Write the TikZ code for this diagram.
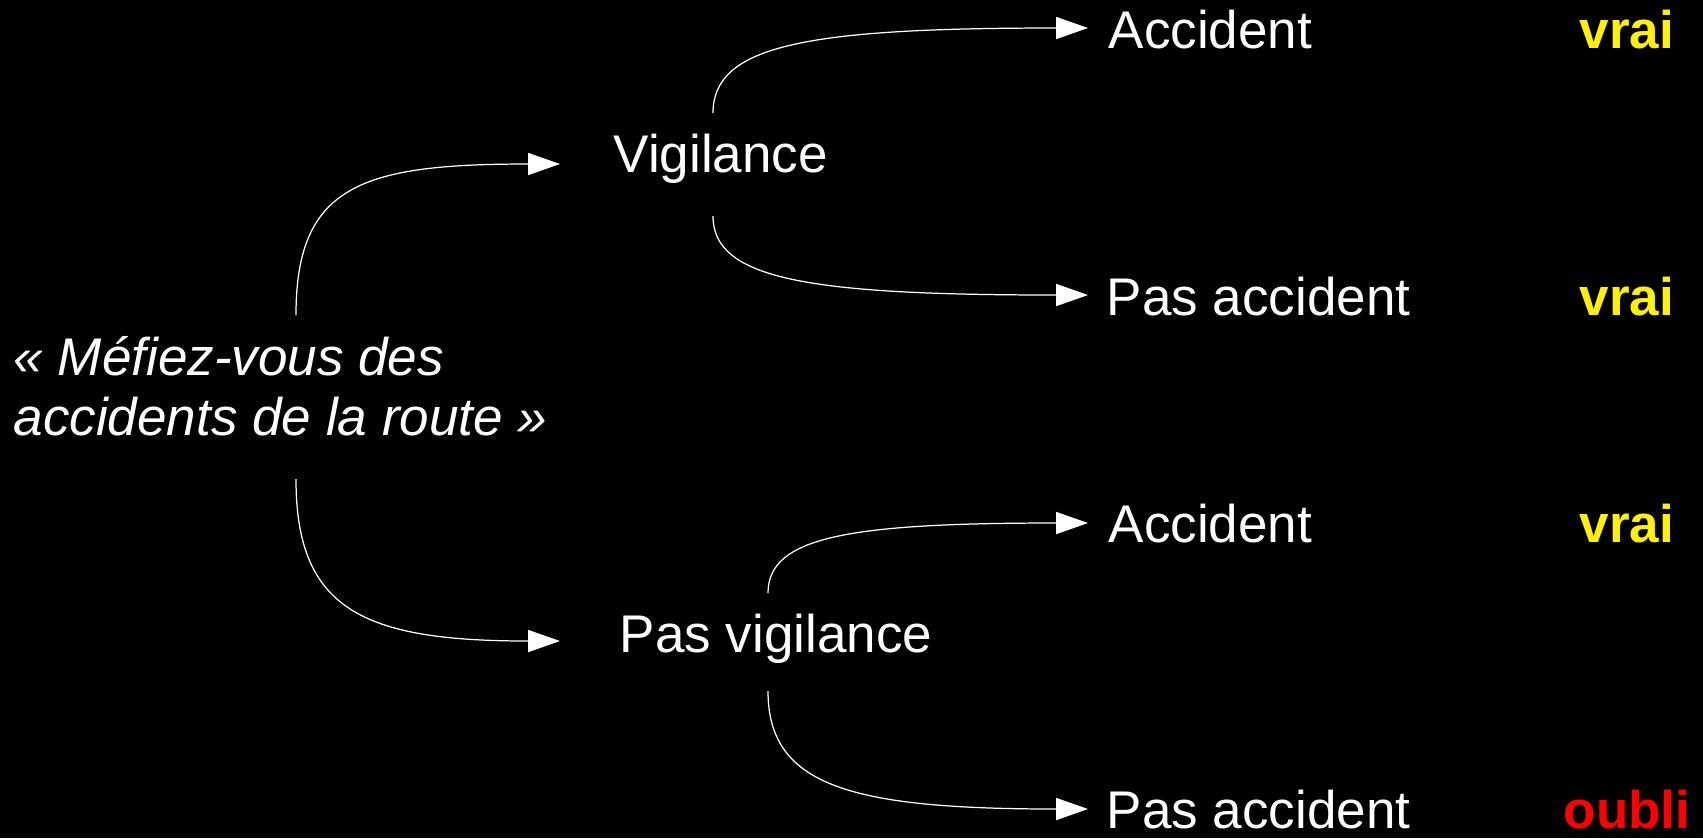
\documentclass[tikz,border=0pt]{standalone}
\usepackage{fontspec}
\setmainfont{Liberation Sans}
\usetikzlibrary{arrows.meta}
\begin{document}
\begin{tikzpicture}[x=0.01cm,y=-0.01cm,
  lbl/.style={text=white,inner sep=0pt,anchor=base west,font=\fontsize{15.08}{17}\selectfont},
  verdict/.style={inner sep=0pt,anchor=base,font=\fontsize{15.08}{17}\selectfont\bfseries},
  conn/.style={draw=white,line width=0.35pt,-{Triangle[length=9.1pt,width=6.3pt]}}]
\fill[black] (0,0) rectangle (1703,838);
\useasboundingbox (0,0) rectangle (1703,838);
% texts
\node[lbl,font=\fontsize{15.08}{17}\selectfont\itshape] (q1) at (13,375) {« Méfiez-vous des};
\node[lbl,font=\fontsize{15.08}{17}\selectfont\itshape] (q2) at (13,435) {accidents de la route »};
\node[lbl] (vig) at (613,172) {Vigilance};
\node[lbl] (pvig) at (619,652) {Pas vigilance};
\node[lbl] (acc1) at (1108,48) {Accident};
\node[lbl] (pacc1) at (1106,315) {Pas accident};
\node[lbl] (acc2) at (1108,542) {Accident};
\node[lbl] (pacc2) at (1106,828) {Pas accident};
\node[verdict,text=yellow] (v1) at (1627,48) {vrai};
\node[verdict,text=yellow] (v2) at (1627,315) {vrai};
\node[verdict,text=yellow] (v3) at (1627,542) {vrai};
\node[verdict,text=red] (v4) at (1627,828) {oubli};
% connector endpoints
\coordinate (qT) at (296,315);
\coordinate (qB) at (296,479);
\coordinate (vigIn) at (560,164);
\coordinate (pvigIn) at (560,641);
\coordinate (vigT) at (713,113);
\coordinate (vigB) at (713,216);
\coordinate (pvigT) at (768,593);
\coordinate (pvigB) at (768,691);
\coordinate (acc1In) at (1088,28);
\coordinate (pacc1In) at (1088,295);
\coordinate (acc2In) at (1088,523);
\coordinate (pacc2In) at (1088,809);
% connectors
\draw[conn] (qT) .. controls (296,185) and (362,164) .. (vigIn);
\draw[conn] (qB) .. controls (296,609) and (362,641) .. (pvigIn);
\draw[conn] (vigT) .. controls (713,45) and (807,28) .. (acc1In);
\draw[conn] (vigB) .. controls (713,279) and (807,295) .. (pacc1In);
\draw[conn] (pvigT) .. controls (768,537) and (848,523) .. (acc2In);
\draw[conn] (pvigB) .. controls (768,785) and (848,809) .. (pacc2In);
\end{tikzpicture}
\end{document}
